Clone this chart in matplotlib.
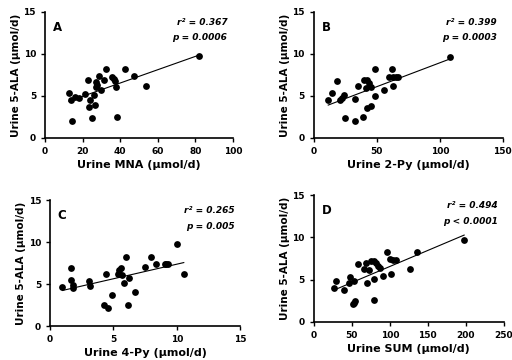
import numpy as np
import matplotlib.pyplot as plt

plt.rcParams['font.family'] = ['DejaVu Sans']
plt.rcParams['font.weight'] = 'bold'

# Panel A: urine MNA vs 5-ALA
mna = [12.7, 13.6, 14.3, 16.1, 17.9, 21.1, 23.0, 23.4, 24.1, 24.8, 26.0, 26.7,
       27.3, 27.3, 27.8, 28.5, 29.7, 31.3, 32.2, 35.8, 36.6, 37.2, 37.5, 38.4,
       42.5, 47.3, 53.5, 81.8]
ala_a = [5.4, 4.56, 2.06, 4.84, 4.72, 5.24, 6.94, 3.69, 4.56, 2.42, 5.16, 3.97,
         6.63, 6.07, 6.31, 7.42, 5.75, 6.94, 8.25, 7.26, 7.02, 6.8, 6.11, 2.5,
         8.25, 7.34, 6.23, 9.72]

# Panel B: urine 2-Py
py2 = [11.4, 14.6, 18.6, 20.4, 22.0, 23.6, 24.4, 32.7, 32.7, 34.8, 38.8, 39.8,
       41.1, 41.9, 41.9, 43.5, 45.7, 45.7, 48.6, 48.6, 55.7, 59.7, 62.4, 62.6,
       63.2, 65.0, 67.2, 108.3]
ala_b = [4.48, 5.32, 6.8, 4.52, 4.76, 5.16, 2.36, 4.68, 2.0, 6.16, 2.44, 6.88,
         5.96, 6.88, 3.6, 6.48, 3.84, 6.08, 8.16, 5.04, 5.68, 7.2, 8.16, 6.16,
         7.2, 7.28, 7.28, 9.68]

# Panel C: urine 4-Py
py4 = [0.97, 1.66, 1.66, 1.79, 1.79, 3.05, 3.16, 4.37, 4.26, 4.55, 4.87, 5.32,
       5.47, 5.58, 5.68, 5.84, 5.97, 6.18, 6.26, 6.66, 7.47, 7.95, 8.37, 9.03,
       9.13, 9.34, 10.05, 10.55]
ala_c = [4.62, 6.92, 5.45, 4.93, 4.58, 5.33, 4.81, 6.25, 2.51, 2.15, 3.74, 6.25,
         6.73, 6.96, 6.05, 5.13, 8.28, 2.55, 5.77, 4.02, 7.04, 8.28, 7.36, 7.44,
         7.44, 7.36, 9.75, 6.25]

# Panel D: urine SUM
usum = [26.3, 28.9, 39.9, 46.1, 47.4, 53.1, 52.2, 53.5, 51.8, 57.5, 66.2, 68.4,
        69.3, 73.2, 75.0, 78.5, 79.8, 78.9, 82.0, 83.8, 86.8, 90.4, 96.1, 99.6,
        101.3, 103.9, 107.5, 126.3, 135.5, 197.8]
ala_d = [3.99, 4.82, 3.71, 4.58, 5.29, 4.78, 2.25, 2.49, 2.09, 6.87, 6.24, 6.95,
         4.58, 6.08, 7.26, 7.15, 5.09, 2.53, 6.95, 6.59, 6.32, 5.37, 8.25, 7.42,
         5.72, 7.34, 7.30, 6.20, 8.25, 9.67]

panels = [
    ('A', mna, ala_a, 'Urine MNA (\u03bcmol/d)', [0, 20, 40, 60, 80, 100], 'r\u00b2 = 0.367', 'p = 0.0006',
     [0.088, 0.617, 0.367, 0.35]),
    ('B', py2, ala_b, 'Urine 2-Py (\u03bcmol/d)', [0, 50, 100, 150], 'r\u00b2 = 0.399', 'p = 0.0003',
     [0.613, 0.617, 0.369, 0.35]),
    ('C', py4, ala_c, 'Urine 4-Py (\u03bcmol/d)', [0, 5, 10, 15], 'r\u00b2 = 0.265', 'p = 0.005',
     [0.098, 0.094, 0.371, 0.35]),
    ('D', usum, ala_d, 'Urine SUM (\u03bcmol/d)', [0, 50, 100, 150, 200, 250], 'r\u00b2 = 0.494', 'p < 0.0001',
     [0.613, 0.106, 0.371, 0.352]),
]

fig = plt.figure(figsize=(5.12, 3.6), dpi=100)

for label, x, y, xlab, xt, r2, p, pos in panels:
    ax = fig.add_axes(pos)
    x = np.array(x)
    y = np.array(y)
    ax.scatter(x, y, s=24, color='black', zorder=3, linewidths=0)
    m, b = np.polyfit(x, y, 1)
    xx = np.array([x.min(), x.max()])
    ax.plot(xx, m * xx + b, color='black', lw=0.8)
    ax.set_xlim(xt[0], xt[-1])
    ax.set_ylim(0, 15)
    ax.set_xticks(xt)
    ax.set_yticks([0, 5, 10, 15])
    for s in ['top', 'right']:
        ax.spines[s].set_visible(False)
    for s in ['left', 'bottom']:
        ax.spines[s].set_linewidth(1.2)
    ax.tick_params(labelsize=6.5, width=1, length=3)
    for t in ax.get_xticklabels() + ax.get_yticklabels():
        t.set_fontweight('bold')
    ax.set_xlabel(xlab, fontsize=8, fontweight='bold', labelpad=3)
    ax.set_ylabel('Urine 5-ALA (\u03bcmol/d)', fontsize=7.5, fontweight='bold', labelpad=2)
    ax.text(0.04, 0.93, label, transform=ax.transAxes, fontsize=8.5, fontweight='bold', va='top')
    ax.text(0.97, 0.95, r2, transform=ax.transAxes, fontsize=6.5, fontweight='bold', style='italic',
            ha='right', va='top')
    ax.text(0.97, 0.83, p, transform=ax.transAxes, fontsize=6.5, fontweight='bold', style='italic',
            ha='right', va='top')

plt.savefig('out.png', dpi=100)
